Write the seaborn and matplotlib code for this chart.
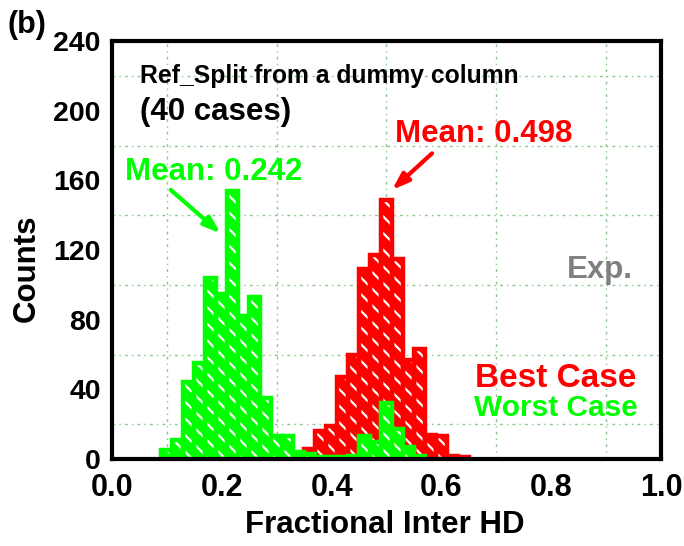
import matplotlib
matplotlib.use("Agg")
import matplotlib.pyplot as plt
import seaborn as sns
from matplotlib.ticker import MultipleLocator

# ---------------- data ----------------
hd_bins = [0.10, 0.12, 0.14, 0.16, 0.18, 0.20, 0.22, 0.24, 0.26, 0.28,
           0.30, 0.32, 0.34, 0.36, 0.38, 0.40, 0.42, 0.44, 0.46, 0.48,
           0.50, 0.52, 0.54, 0.56, 0.58, 0.60, 0.62, 0.64]
best_counts = [0, 0, 0, 0, 0, 0, 0, 0, 0, 1,
               1, 1, 2, 6, 16, 19, 47, 60, 109, 117,
               149, 115, 57, 63, 14, 13, 2, 1]
worst_counts = [5, 11, 44, 55, 104, 95, 154, 82, 93, 35,
                13, 13, 4, 3, 1, 1, 1, 2, 13, 10,
                32, 17, 7, 2, 0, 0, 0, 0]
x_ticks = [0.0, 0.2, 0.4, 0.6, 0.8, 1.0]
y_ticks = [0, 40, 80, 120, 160, 200, 240]
bin_width = 0.02

RED = "#ff0000"
GREEN = "#00ff00"

sns.set_style("white")
plt.rcParams["font.family"] = ["Liberation Sans", "DejaVu Sans"]
plt.rcParams["font.weight"] = "bold"
plt.rcParams["hatch.linewidth"] = 1.6
for k in ["text.color", "axes.labelcolor", "xtick.color", "ytick.color"]:
    plt.rcParams[k] = "black"

fig = plt.figure(figsize=(6.84, 5.46), dpi=100)
ax = fig.add_axes([0.1637, 0.1593, 0.8027, 0.7656])


def draw_hist(counts, color):
    xs = [b for b, c in zip(hd_bins, counts) if c > 0]
    ws = [c for c in counts if c > 0]
    rng = (min(xs) - bin_width / 2, max(xs) + bin_width / 2)
    common = dict(x=xs, weights=ws, binwidth=bin_width, binrange=rng,
                  stat="count", element="bars", ax=ax)
    sns.histplot(**common, fill=True, color=color, alpha=1, linewidth=0)
    sns.histplot(**common, fill=False, color="white", linewidth=0,
                 hatch="\\\\")
    sns.histplot(**common, fill=False, color=color, linewidth=3.2)


draw_hist(best_counts, RED)
draw_hist(worst_counts, GREEN)

ax.set_xlim(0, 1.0)
ax.set_ylim(0, 240)
ax.set_xticks(x_ticks)
ax.set_yticks(y_ticks)
ax.set_xticklabels([f"{v:.1f}" for v in x_ticks])
ax.xaxis.set_minor_locator(MultipleLocator(0.1))
ax.yaxis.set_minor_locator(MultipleLocator(20))
ax.tick_params(axis="both", which="major", direction="in", length=8, width=3,
               top=False, right=False)
ax.tick_params(axis="x", which="major", pad=10, labelsize=22)
ax.tick_params(axis="y", which="major", pad=8, labelsize=20.5)
ax.tick_params(axis="x", which="minor", direction="in", length=8, width=3)
ax.tick_params(axis="y", which="minor", length=0)
for s in ax.spines.values():
    s.set_linewidth(3)
    s.set_color("black")

ax.grid(False)
ax.grid(which="minor", color="#8cc68c", linestyle=(0, (2, 3, 1, 3)),
        linewidth=1.0)
ax.set_axisbelow(True)

ax.set_xlabel("Fractional Inter HD", fontsize=22.5, fontweight="bold")
ax.set_ylabel("Counts", fontsize=22.5, fontweight="bold")
ax.xaxis.set_label_coords(0.497, -0.122)
ax.yaxis.set_label_coords(-0.128, 0.457)

# annotations
ax.text(0.051, 220, "Ref_Split from a dummy column", fontsize=17.8,
        fontweight="bold", ha="left", va="center")
ax.text(0.051, 199, "(40 cases)", fontsize=22.5, fontweight="bold",
        ha="left", va="center")
ax.text(0.024, 165, "Mean: 0.242", fontsize=22.5, fontweight="bold",
        color=GREEN, ha="left", va="center")
ax.annotate("", xy=(0.198, 129.5), xytext=(0.107, 154.5),
            arrowprops=dict(arrowstyle="-|>,head_length=1.0,head_width=0.35",
                            color=GREEN, lw=3, shrinkA=0, shrinkB=0))
ax.text(0.515, 186.5, "Mean: 0.498", fontsize=22.5, fontweight="bold",
        color=RED, ha="left", va="center")
ax.annotate("", xy=(0.51, 154.5), xytext=(0.583, 175.5),
            arrowprops=dict(arrowstyle="-|>,head_length=1.0,head_width=0.35",
                            color=RED, lw=3, shrinkA=0, shrinkB=0))
ax.text(0.889, 108.5, "Exp.", fontsize=22.5, fontweight="bold",
        color="#808080", ha="center", va="center")
ax.text(0.661, 46.5, "Best Case", fontsize=24, fontweight="bold",
        color=RED, ha="left", va="center")
ax.text(0.659, 29.3, "Worst Case", fontsize=21.5, fontweight="bold",
        color=GREEN, ha="left", va="center")

fig.text(0.039, 0.954, "(b)", fontsize=22, fontweight="bold",
         ha="center", va="center")

fig.savefig("out.png", dpi=100)
